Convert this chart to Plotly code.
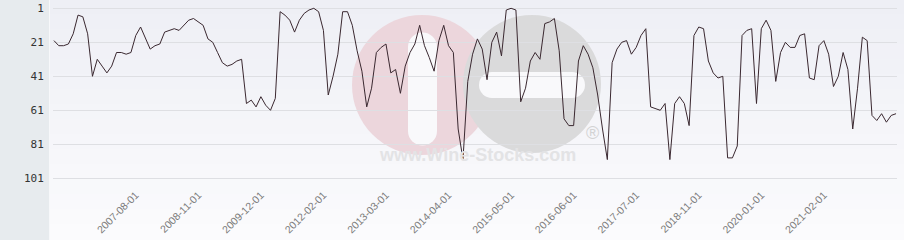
import plotly.graph_objects as go

# ---- data ----
ranks = [20, 23, 23, 22, 16, 5, 6, 16, 41, 31, 35, 39, 35, 27, 27, 28, 27, 17, 12, 19,
         25, 23, 22, 15, 14, 13, 14, 11, 8, 7, 9, 11, 19, 21, 27, 33, 35, 34, 32, 31,
         57, 55, 59, 53, 58, 61, 54, 3, 5, 8, 15, 8, 4, 2, 1, 3, 14, 52, 41, 28,
         3, 3, 11, 26, 38, 59, 48, 27, 24, 22, 39, 37, 51, 35, 27, 22, 11, 23, 30, 38,
         20, 11, 23, 27, 72, 90, 44, 28, 19, 25, 43, 21, 15, 29, 2, 1, 2, 56, 48, 32,
         27, 31, 10, 9, 7, 26, 66, 70, 70, 32, 23, 28, 36, 52, 72, 90, 33, 25, 21, 20,
         28, 24, 17, 13, 59, 60, 61, 57, 90, 57, 53, 57, 70, 17, 12, 13, 32, 39, 42, 41,
         89, 89, 82, 17, 14, 13, 57, 13, 8, 14, 44, 27, 21, 24, 24, 17, 16, 42, 43, 23,
         20, 28, 47, 41, 27, 37, 72, 48, 18, 20, 64, 67, 63, 68, 64, 63]
positions = list(range(len(ranks)))
tick_positions = [17, 30, 43, 56, 69, 82, 95, 108, 121, 134, 147, 160]
tick_labels = ["2007-08-01", "2008-11-01", "2009-12-01", "2012-02-01", "2013-03-01",
               "2014-04-01", "2015-05-01", "2016-06-01", "2017-07-01", "2018-11-01",
               "2020-01-01", "2021-02-01"]
y_ticks = [1, 21, 41, 61, 81, 101]

# ---- layout geometry (pixels) ----
W, H = 904, 240
ML, MR, MT, MB = 53, 7, 4, 54
PW, PH = W - ML - MR, H - MT - MB


def px(x):
    return (x - ML) / PW


def py(y):
    return (H - MB - y) / PH


shapes = []
# background gradient
top_c = (238, 239, 245)
bot_c = (251, 251, 253)
nb = 16
for i in range(nb):
    t = i / (nb - 1)
    c = tuple(round(top_c[k] + (bot_c[k] - top_c[k]) * t) for k in range(3))
    shapes.append(dict(type="rect", xref="paper", yref="paper",
                       x0=px(49), x1=px(W + 2), y0=py(H * (i + 1) / nb + 1), y1=py(H * i / nb - 1),
                       fillcolor="rgb(%d,%d,%d)" % c, line=dict(width=0), layer="below"))
# left strip
shapes.append(dict(type="rect", xref="paper", yref="paper", x0=px(-2), x1=px(49),
                   y0=py(H + 2), y1=py(-2), fillcolor="#e7ebee", line=dict(width=0), layer="below"))
shapes.append(dict(type="rect", xref="paper", yref="paper", x0=px(49), x1=px(50),
                   y0=py(H + 2), y1=py(-2), fillcolor="#f7f8fa", line=dict(width=0), layer="below"))


def circle(cx, cy, r, color):
    return dict(type="circle", xref="paper", yref="paper", x0=px(cx - r), x1=px(cx + r),
                y0=py(cy + r), y1=py(cy - r), fillcolor=color, line=dict(width=0), layer="below")


def rect(x0, y0, x1, y1, color):
    return dict(type="rect", xref="paper", yref="paper", x0=px(x0), x1=px(x1),
                y0=py(y1), y1=py(y0), fillcolor=color, line=dict(width=0), layer="below")


pink = "#ecd6dc"
grey = "#dadadb"
white = "#f9f9fb"
shapes.append(circle(422, 85, 70, pink))
shapes.append(circle(532, 84, 69, grey))
# plus slot in pink
shapes.append(rect(408, 47, 437, 131, white))
shapes.append(circle(422.5, 47, 14.5, white))
shapes.append(circle(422.5, 131, 14.5, white))
# minus bar in grey
shapes.append(rect(492, 72, 572, 98, white))
shapes.append(circle(492, 85, 13, white))
shapes.append(circle(572, 85, 13, white))

annotations = [
    dict(text="<b>www.Wine-Stocks.com</b>", xref="paper", yref="paper", x=px(477), y=py(167),
         showarrow=False, font=dict(family="Liberation Sans, Arial", size=18, color="#e3e3e5")),
    dict(text="®", xref="paper", yref="paper", x=px(592), y=py(145), showarrow=False,
         font=dict(family="Liberation Sans, Arial", size=18, color="#d3d3d4")),
]

fig = go.Figure()
fig.add_trace(go.Scatter(x=positions, y=ranks, mode="lines",
                         line=dict(color="#3a2830", width=1), hoverinfo="x+y"))

fig.update_layout(
    width=W, height=H,
    margin=dict(l=ML, r=MR, t=MT, b=MB, autoexpand=False),
    paper_bgcolor="#f4f5f9", plot_bgcolor="rgba(0,0,0,0)",
    showlegend=False,
    shapes=shapes, annotations=annotations,
    xaxis=dict(range=[-0.2, len(ranks) - 1 + 0.2], tickmode="array", automargin=False,
               tickvals=tick_positions, ticktext=tick_labels, tickangle=-45,
               showgrid=False, zeroline=False, showline=False,
               ticks="", ticklen=0,
               tickfont=dict(family="Liberation Sans, Arial", size=10.5, color="#7a7a7a")),
    yaxis=dict(range=[105.53, -1.53], tickmode="array", tickvals=y_ticks, automargin=False,
               showgrid=True, gridcolor="#dedfe3", gridwidth=1, zeroline=False, showline=False,
               ticks="outside", ticklen=6, tickcolor="rgba(0,0,0,0)",
               tickfont=dict(family="DejaVu Sans Mono", size=11, color="#333333")),
)

fig.write_html("out.html")
